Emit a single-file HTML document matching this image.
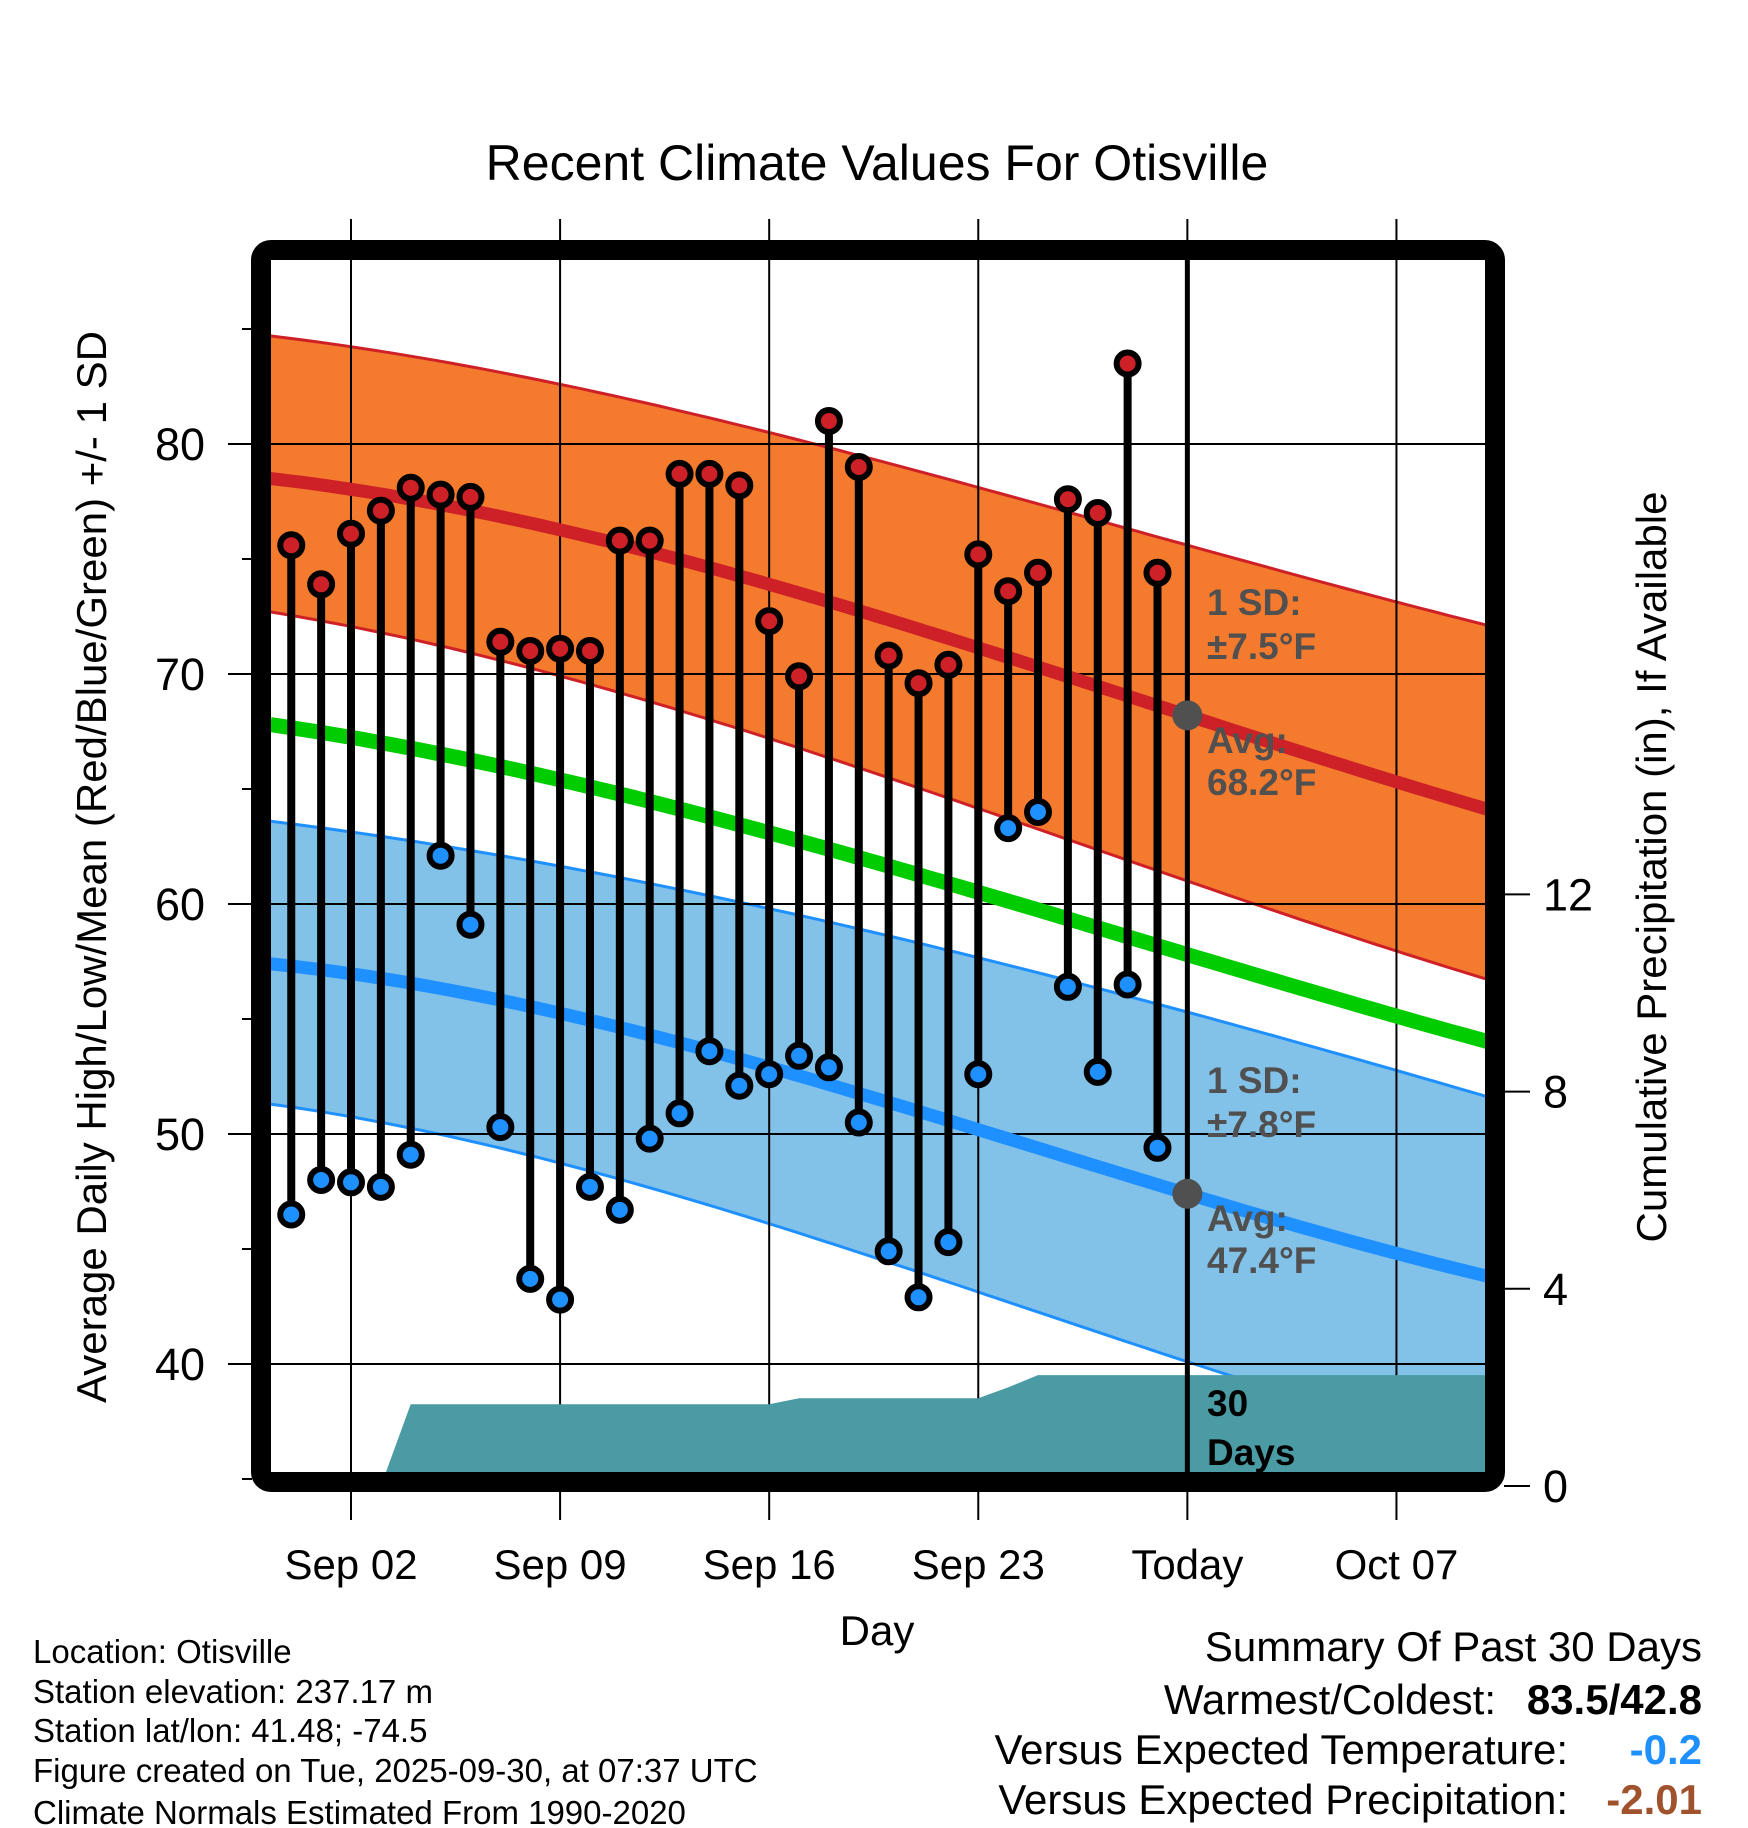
<!DOCTYPE html>
<html><head><meta charset="utf-8"><style>
html,body{margin:0;padding:0;background:#fff;}
svg{display:block;font-family:"Liberation Sans",Arial,sans-serif;}
</style></head><body>
<svg id="chart" width="1748" height="1828" viewBox="0 0 1748 1828" xmlns="http://www.w3.org/2000/svg">
<defs><clipPath id="plotclip"><rect x="271" y="260" width="1215" height="1215"/></clipPath></defs>
<text x="877" y="180" font-size="50" text-anchor="middle">Recent Climate Values For Otisville</text>
<g id="bands" clip-path="url(#plotclip)"></g>
<g id="grid"></g>
<g id="precip" clip-path="url(#plotclip)"></g>
<g id="lines" clip-path="url(#plotclip)"></g>
<g id="today"></g>
<g id="marks"></g>
<g id="annot"></g>
<rect x="261" y="250" width="1234" height="1232" rx="10" fill="none" stroke="#000" stroke-width="20"/>
<g id="axes"></g>
<text transform="translate(106,867) rotate(-90)" font-size="42" text-anchor="middle">Average Daily High/Low/Mean (Red/Blue/Green) +/- 1 SD</text>
<text transform="translate(1666,867) rotate(-90)" font-size="42" text-anchor="middle">Cumulative Precipitation (in), If Available</text>
<text x="877" y="1645" font-size="42" text-anchor="middle">Day</text>
<g font-size="33">
<text x="33" y="1663">Location: Otisville</text>
<text x="33" y="1703">Station elevation: 237.17 m</text>
<text x="33" y="1742">Station lat/lon: 41.48; -74.5</text>
<text x="33" y="1782">Figure created on Tue, 2025-09-30, at 07:37 UTC</text>
<text x="33" y="1824">Climate Normals Estimated From 1990-2020</text>
</g>
<g font-size="42">
<text x="1702" y="1661" text-anchor="end">Summary Of Past 30 Days</text>
<text x="1496" y="1714" text-anchor="end">Warmest/Coldest:</text>
<text x="1702" y="1714" text-anchor="end" font-weight="bold">83.5/42.8</text>
<text x="1568" y="1764" text-anchor="end">Versus Expected Temperature:</text>
<text x="1702" y="1764" text-anchor="end" font-weight="bold" fill="#1E90FF">-0.2</text>
<text x="1568" y="1814" text-anchor="end">Versus Expected Precipitation:</text>
<text x="1702" y="1814" text-anchor="end" font-weight="bold" fill="#A0522D">-2.01</text>
</g>
</svg>
<script>
// ---- data ----
const days = [-2,-1,0,1,2,3,4,5,6,7,8,9,10,11,12,13,14,15,16,17,18,19,20,21,22,23,24,25,26,27];
const highs = [75.6,73.9,76.1,77.1,78.1,77.8,77.7,71.4,71.0,71.1,71.0,75.8,75.8,78.7,78.7,78.2,72.3,69.9,81.0,79.0,70.8,69.6,70.4,75.2,73.6,74.4,77.6,77.0,83.5,74.4];
const lows = [46.5,48.0,47.9,47.7,49.1,62.1,59.1,50.3,43.7,42.8,47.7,46.7,49.8,50.9,53.6,52.1,52.6,53.4,52.9,50.5,44.9,42.9,45.3,52.6,63.3,64.0,56.4,52.7,56.5,49.4];
const precip = [0,0,0,0,1.66,1.66,1.66,1.66,1.66,1.66,1.66,1.66,1.66,1.66,1.66,1.66,1.66,1.78,1.78,1.78,1.78,1.78,1.78,1.78,2.0,2.25,2.25,2.25,2.25,2.25];
const normDays = [-2.7,14,28,38.1];
const highUpper = [84.7,80.5,75.6,72.1];
const highAvg = [78.5,73.9,68.2,64.1];
const highLower = [72.7,67.2,61.0,56.7];
const meanAvg = [67.8,63.1,57.8,54.0];
const lowUpper = [63.6,59.8,55.3,51.6];
const lowAvg = [57.4,52.9,47.4,43.8];
const lowLower = [51.3,46.1,40.1,36.2];
const xTickDays = [0,7,14,21,28,35];
const xTickLabels = ["Sep 02","Sep 09","Sep 16","Sep 23","Today","Oct 07"];
const yTicks = [40,50,60,70,80];
const pTicks = [0,4,8,12];
const todayDay = 28;

// ---- axes ----
const X = d => 351 + d*29.87;
const Y = v => 444 - (v-80)*23.0;
const P = p => 1486 - p*49.3;
const NS = "http://www.w3.org/2000/svg";
function mk(tag, attrs, parent){const e=document.createElementNS(NS,tag);for(const k in attrs)e.setAttribute(k,attrs[k]);parent.appendChild(e);return e;}
// smooth (Lagrange) interpolation through the normal control values
function interp(arr,d){let s=0;for(let i=0;i<normDays.length;i++){let w=1;for(let j=0;j<normDays.length;j++){if(j!==i)w*=(d-normDays[j])/(normDays[i]-normDays[j]);}s+=w*arr[i];}return s;}
function samples(arr){const pts=[];for(let d=-2.7;d<=38.1;d+=0.5)pts.push([X(d),Y(interp(arr,d))]);pts.push([X(38.1),Y(interp(arr,38.1))]);return pts;}
function line(pts){return pts.map((p,i)=>(i?"L":"M")+p[0].toFixed(1)+","+p[1].toFixed(1)).join("");}
function band(up,lo){const a=samples(up),b=samples(lo).reverse();return line(a)+b.map(p=>"L"+p[0].toFixed(1)+","+p[1].toFixed(1)).join("")+"Z";}

const bands=document.getElementById("bands");
let e=mk("path",{d:band(highUpper,highLower),fill:"#F47A2D"},bands);


e=mk("path",{d:band(lowUpper,lowLower),fill:"#82C1E8"},bands);


[[highUpper,"#CE2127","high-upper-sd-line"],[highLower,"#CE2127","high-lower-sd-line"],[lowUpper,"#1E90FF","low-upper-sd-line"],[lowLower,"#1E90FF","low-lower-sd-line"]].forEach(s=>{
 const l=mk("path",{d:line(samples(s[0])),fill:"none",stroke:s[1],"stroke-width":3},bands);
 
 
});

const grid=document.getElementById("grid");
xTickDays.forEach(d=>{const g=mk("line",{x1:X(d),x2:X(d),y1:219,y2:1520,stroke:"#000","stroke-width":2},grid);

});
yTicks.forEach(v=>{const g=mk("line",{x1:228,x2:1486,y1:Y(v),y2:Y(v),stroke:"#000","stroke-width":2},grid);

});

const pg=document.getElementById("precip");
let pd="M"+X(days[0])+","+P(0);
days.forEach((d,i)=>{pd+="L"+X(d).toFixed(1)+","+P(precip[i]).toFixed(1);});
pd+="L1490,"+P(precip[precip.length-1]).toFixed(1)+"L1490,1480Z";
e=mk("path",{d:pd,fill:"#4A9BA3"},pg);



const lg=document.getElementById("lines");
[[highAvg,"#CE2127",13,"avg-high-line"],[meanAvg,"#00CC00",15,"avg-mean-line"],[lowAvg,"#1E90FF",13,"avg-low-line"]].forEach(s=>{
 const l=mk("path",{d:line(samples(s[0])),fill:"none",stroke:s[1],"stroke-width":s[2]},lg);
 
 
});

const tg=document.getElementById("today");
e=mk("line",{x1:X(todayDay),x2:X(todayDay),y1:260,y2:1475,stroke:"#000","stroke-width":5},tg);



const mg=document.getElementById("marks");
days.forEach((d,i)=>{
 const s=mk("line",{x1:X(d),x2:X(d),y1:Y(highs[i]),y2:Y(lows[i]),stroke:"#000","stroke-width":8},mg);
 
 
});
days.forEach((d,i)=>{
 const h=mk("circle",{cx:X(d),cy:Y(highs[i]),r:11,fill:"#CE2127",stroke:"#000","stroke-width":6},mg);
 
 
 const l=mk("circle",{cx:X(d),cy:Y(lows[i]),r:11,fill:"#1E90FF",stroke:"#000","stroke-width":6},mg);
 
 
});

const an=document.getElementById("annot");
e=mk("circle",{cx:X(todayDay),cy:Y(interp(highAvg,todayDay)),r:15,fill:"#505050"},an);


e=mk("circle",{cx:X(todayDay),cy:Y(interp(lowAvg,todayDay)),r:15,fill:"#505050"},an);


const labels=[["1 SD:",615,"#505050","high-sd-label"],["±7.5°F",659,"#505050","high-sd-value"],["Avg:",753,"#505050","high-avg-label"],["68.2°F",795,"#505050","high-avg-value"],
["1 SD:",1093,"#505050","low-sd-label"],["±7.8°F",1137,"#505050","low-sd-value"],["Avg:",1231,"#505050","low-avg-label"],["47.4°F",1273,"#505050","low-avg-value"],
["30",1416,"#000","precip-days-label"],["Days",1465,"#000","precip-days-label2"]];
labels.forEach(l=>{const t=mk("text",{x:1207,y:l[1],fill:l[2],"font-size":37,"font-weight":"bold"},an);t.textContent=l[0];

});

const ax=document.getElementById("axes");
xTickDays.forEach((d,i)=>{const t=mk("text",{x:X(d),y:1579,"font-size":42,"text-anchor":"middle"},ax);t.textContent=xTickLabels[i];

});
yTicks.forEach(v=>{const t=mk("text",{x:205,y:Y(v)+16,"font-size":45,"text-anchor":"end"},ax);t.textContent=v;

});
for(let v=35;v<=85;v+=5){if(v%10)mk("line",{x1:242,x2:252,y1:Y(v),y2:Y(v),stroke:"#000","stroke-width":2},ax);}
pTicks.forEach(p=>{mk("line",{x1:1504,x2:1530,y1:P(p),y2:P(p),stroke:"#000","stroke-width":2},ax);
const t=mk("text",{x:1543,y:P(p)+16,"font-size":45},ax);t.textContent=p;

});
</script>
</body></html>
